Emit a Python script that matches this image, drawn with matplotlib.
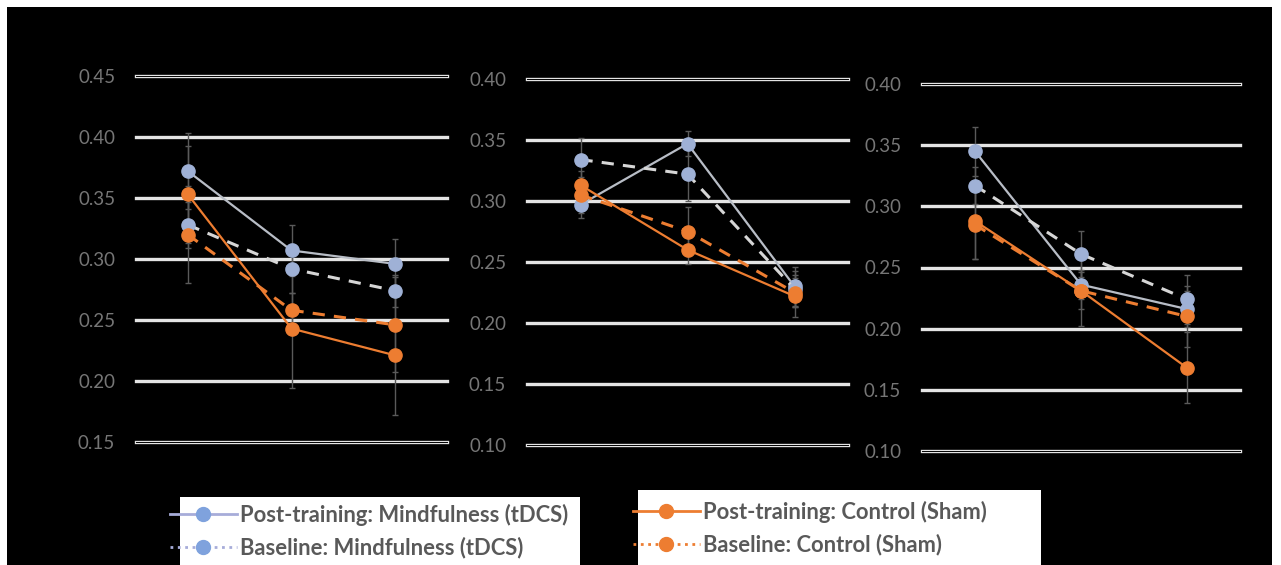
import matplotlib.pyplot as plt
from matplotlib.lines import Line2D
from matplotlib.patches import Rectangle

# three time points, no axis labels in the original
timepoints = [0, 1, 2]

# panel 1 (y 0.15 - 0.45)
p1_post_mind = [0.372, 0.307, 0.296]
p1_post_mind_err = [0.031, 0.021, 0.020]
p1_base_mind = [0.328, 0.292, 0.274]
p1_base_mind_err = [0.019, 0.020, 0.013]
p1_post_ctrl = [0.353, 0.243, 0.221]
p1_post_ctrl_err = [0.040, 0.049, 0.049]
p1_base_ctrl = [0.320, 0.258, 0.246]
p1_base_ctrl_err = [0.040, 0.014, 0.039]

# panel 2 (y 0.10 - 0.40)
p2_post_mind = [0.297, 0.347, 0.230]
p2_post_mind_err = [0.011, 0.010, 0.016]
p2_base_mind = [0.334, 0.322, 0.228]
p2_base_mind_err = [0.018, 0.022, 0.015]
p2_post_ctrl = [0.313, 0.260, 0.222]
p2_post_ctrl_err = [0.012, 0.012, 0.017]
p2_base_ctrl = [0.305, 0.275, 0.225]
p2_base_ctrl_err = [0.015, 0.020, 0.012]

# panel 3 (y 0.10 - 0.40)
p3_post_mind = [0.345, 0.236, 0.216]
p3_post_mind_err = [0.020, 0.012, 0.015]
p3_base_mind = [0.317, 0.261, 0.224]
p3_base_mind_err = [0.015, 0.019, 0.020]
p3_post_ctrl = [0.288, 0.231, 0.168]
p3_post_ctrl_err = [0.031, 0.015, 0.029]
p3_base_ctrl = [0.285, 0.231, 0.210]
p3_base_ctrl_err = [0.028, 0.029, 0.025]

p1_ticks = [0.15, 0.20, 0.25, 0.30, 0.35, 0.40, 0.45]
p23_ticks = [0.10, 0.15, 0.20, 0.25, 0.30, 0.35, 0.40]

labels = ["Post-training: Mindfulness (tDCS)", "Baseline: Mindfulness (tDCS)",
          "Post-training: Control (Sham)", "Baseline: Control (Sham)"]

ORANGE = "#ed7d31"
MIND_MK = "#9fb1d6"
GRID = "#e4e4e4"
TICKC = "#767676"

W, H = 1281, 565
fig = plt.figure(figsize=(W / 100, H / 100), dpi=100, facecolor="white")
fig.patches.append(Rectangle((7 / W, 0), (1272 - 7) / W, 1 - 7 / H,
                             transform=fig.transFigure, facecolor="black",
                             edgecolor="none", zorder=-10))

def px_axes(x0, x1, ytop, ybot):
    return fig.add_axes([x0 / W, 1 - ybot / H, (x1 - x0) / W, (ybot - ytop) / H])

panels = [
    (px_axes(136, 447, 76, 442), p1_ticks,
     [p1_post_mind, p1_base_mind, p1_post_ctrl, p1_base_ctrl],
     [p1_post_mind_err, p1_base_mind_err, p1_post_ctrl_err, p1_base_ctrl_err]),
    (px_axes(527, 848, 79, 445), p23_ticks,
     [p2_post_mind, p2_base_mind, p2_post_ctrl, p2_base_ctrl],
     [p2_post_mind_err, p2_base_mind_err, p2_post_ctrl_err, p2_base_ctrl_err]),
    (px_axes(922, 1240, 84, 451), p23_ticks,
     [p3_post_mind, p3_base_mind, p3_post_ctrl, p3_base_ctrl],
     [p3_post_mind_err, p3_base_mind_err, p3_post_ctrl_err, p3_base_ctrl_err]),
]

styles = [
    dict(color="#b8bdc6", ls="-", lw=1.6, mfc=MIND_MK),
    dict(color="#d6d6d6", ls=(0, (4, 3)), lw=2.2, mfc=MIND_MK),
    dict(color=ORANGE, ls="-", lw=1.6, mfc=ORANGE),
    dict(color=ORANGE, ls=(0, (4, 3)), lw=2.2, mfc=ORANGE),
]

for ax, ticks, series, errs in panels:
    ax.set_facecolor("none")
    for s in ax.spines.values():
        s.set_visible(False)
    ax.set_xlim(-0.5, 2.5)
    ax.set_ylim(ticks[0], ticks[-1])
    ax.set_xticks([])
    ax.set_yticks(ticks)
    ax.set_yticklabels([f"{t:.2f}" for t in ticks])
    ax.tick_params(axis="y", length=0, pad=15, labelcolor=TICKC, labelsize=13.5)
    for lab in ax.get_yticklabels():
        lab.set_family("Lato")
    for t in ticks:
        ax.axhline(t, color=GRID, lw=2.4, zorder=1, clip_on=False)
        if t in (ticks[0], ticks[-1]):
            ax.axhline(t, color="black", lw=0.7, zorder=1.1, clip_on=False)
    for vals, err in zip(series, errs):
        ax.errorbar(timepoints, vals, yerr=err, fmt="none", ecolor="#5a5a5a",
                    elinewidth=1.0, capsize=2.5, capthick=1.0, zorder=2)
    for vals, st in zip(series, styles):
        ax.plot(timepoints, vals, color=st["color"], ls=st["ls"], lw=st["lw"],
                marker="o", ms=9.5, mfc=st["mfc"], mec=st["mfc"], zorder=3)

# legend boxes
fig.patches.append(Rectangle((180 / W, 0), (580 - 180) / W, 1 - 497 / H,
                             transform=fig.transFigure, facecolor="white",
                             edgecolor="none", zorder=1))
fig.patches.append(Rectangle((638 / W, 0), (1041 - 638) / W, 1 - 490 / H,
                             transform=fig.transFigure, facecolor="white",
                             edgecolor="none", zorder=1))

def handle(color, ls, mk):
    return Line2D([], [], color=color, ls=ls, lw=2.0, marker="o", ms=10,
                  mfc=mk, mec=mk)

h_mind = [handle("#a7acd9", "-", "#7fa2dd"), handle("#a7acd9", ":", "#7fa2dd")]
h_ctrl = [handle(ORANGE, "-", ORANGE), handle(ORANGE, ":", ORANGE)]

leg_kw = dict(frameon=False, borderpad=0, borderaxespad=0, handlelength=3.05,
              handletextpad=0.15, labelspacing=0.5, numpoints=1, loc="upper left",
              prop=dict(family="Lato", size=15.8, weight="bold"), labelcolor="#595959")
leg1 = fig.legend(h_mind, labels[:2], bbox_to_anchor=(170 / W, 1 - 504 / H), **leg_kw)
leg2 = fig.legend(h_ctrl, labels[2:], bbox_to_anchor=(633 / W, 1 - 501 / H), **leg_kw)
leg1.set_zorder(5)
leg2.set_zorder(5)

fig.savefig("out.png", dpi=100, facecolor="white")
